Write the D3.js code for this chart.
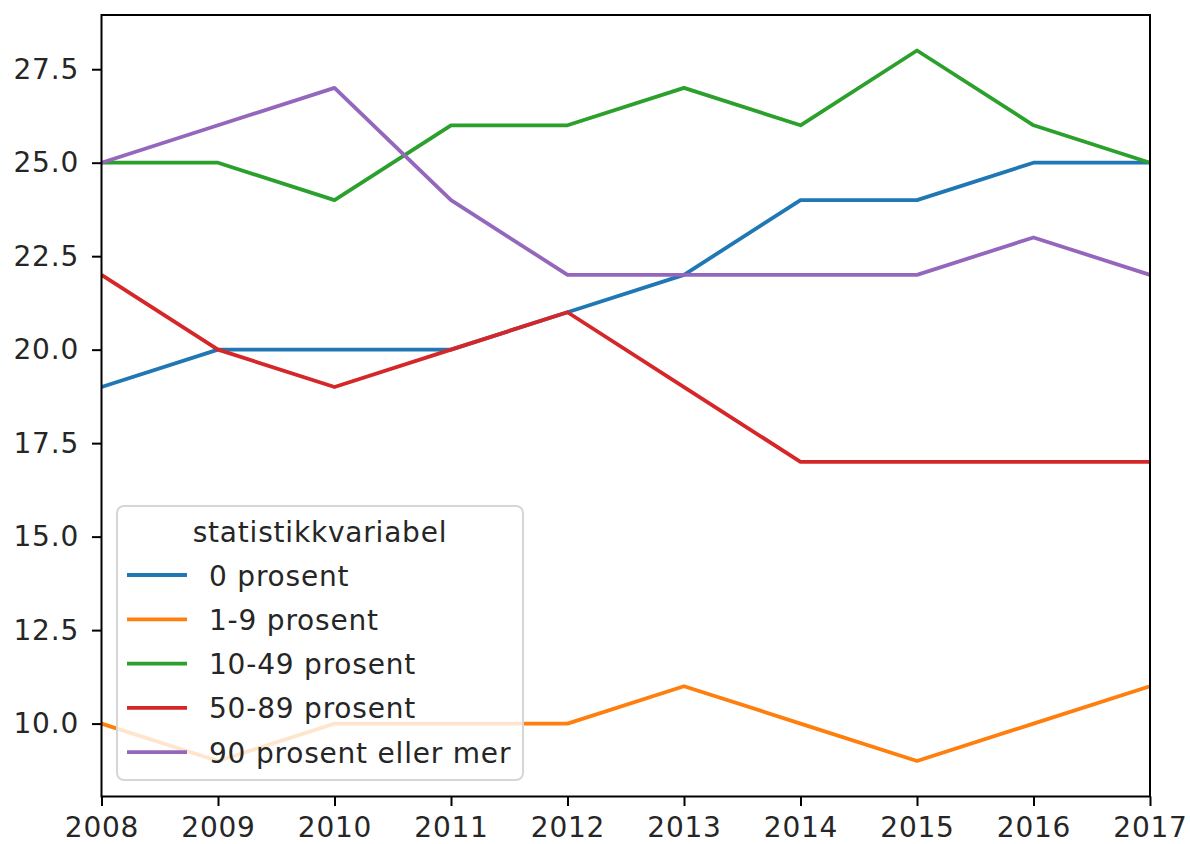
<!DOCTYPE html>
<html>
<head>
<meta charset="utf-8">
<script src="https://cdn.jsdelivr.net/npm/d3@7"></script>
<style>
  body { margin: 0; background: #fff; }
  text { font-family: "DejaVu Sans", sans-serif; fill: #262626; letter-spacing: 0.8px; }
</style>
</head>
<body>
<div id="chart"></div>
<script>
const years = [2008, 2009, 2010, 2011, 2012, 2013, 2014, 2015, 2016, 2017]
const names = ['0 prosent', '1-9 prosent', '10-49 prosent', '50-89 prosent', '90 prosent eller mer']
const colors = ['#1f77b4', '#ff7f0e', '#2ca02c', '#d62728', '#9467bd']
const p0 = [19, 20, 20, 20, 21, 22, 24, 24, 25, 25]
const p1_9 = [10, 9, 10, 10, 10, 11, 10, 9, 10, 11]
const p10_49 = [25, 25, 24, 26, 26, 27, 26, 28, 26, 25]
const p50_89 = [22, 20, 19, 20, 21, 19, 17, 17, 17, 17]
const p90 = [25, 26, 27, 24, 22, 22, 22, 22, 23, 22]
const yTicks = [10.0, 12.5, 15.0, 17.5, 20.0, 22.5, 25.0, 27.5]
const series = [p0, p1_9, p10_49, p50_89, p90]

const w = 1190
const h = 844
const padL = 101.5, padR = 1150, padT = 15, padB = 796.5
const fs = 28

const xScale = d3.scaleLinear()
                .domain([2008, 2017])
                .range([padL, padR])
const yScale = d3.scaleLinear()
                .domain([8.05, 28.95])
                .range([padB, padT])

const svg = d3.select('#chart')
                .append('svg')
                .attr('width', w)
                .attr('height', h)

const line = d3.line()
               .x((d, i) => xScale(years[i]))
               .y(d => yScale(d))

svg.append('g')
   .selectAll('path')
   .data(series)
   .enter()
   .append('path')
   .attr('d', d => line(d))
   .attr('fill', 'none')
   .attr('stroke', (d, i) => colors[i])
   .attr('stroke-width', 3.8)
   .attr('stroke-linejoin', 'round')

// axes
const xAxis = d3.axisBottom(xScale).tickValues(years).tickFormat(d3.format('d')).tickSize(9.5).tickPadding(11)
const yAxis = d3.axisLeft(yScale).tickValues(yTicks).tickFormat(d3.format('.1f')).tickSize(9.5).tickPadding(13)

const gx = svg.append('g').attr('transform', `translate(0,${padB})`).call(xAxis)
const gy = svg.append('g').attr('transform', `translate(${padL},0)`).call(yAxis)
;[gx, gy].forEach(g => {
  g.select('.domain').remove()
  g.selectAll('line').attr('stroke', '#000').attr('stroke-width', 2)
  g.selectAll('text').attr('font-size', fs).attr('fill', '#262626')
    .style('font-family', '"DejaVu Sans", sans-serif')
})

svg.append('rect')
   .attr('x', padL).attr('y', padT)
   .attr('width', padR - padL).attr('height', padB - padT)
   .attr('fill', 'none').attr('stroke', '#000').attr('stroke-width', 2)

// legend
const lg = svg.append('g')
lg.append('rect')
  .attr('x', 117).attr('y', 506)
  .attr('width', 406).attr('height', 274)
  .attr('rx', 7)
  .attr('fill', 'rgba(255,255,255,0.8)')
  .attr('stroke', '#d6d6d6').attr('stroke-width', 2)
lg.append('text')
  .attr('x', 320).attr('y', 542)
  .attr('text-anchor', 'middle')
  .attr('font-size', fs)
  .text('statistikkvariabel')
names.forEach((n, i) => {
  const y = 575 + i * 44.3
  lg.append('line')
    .attr('x1', 127).attr('x2', 187).attr('y1', y).attr('y2', y)
    .attr('stroke', colors[i]).attr('stroke-width', 3.8)
  lg.append('text')
    .attr('x', 209).attr('y', y + 10.5)
    .attr('font-size', fs)
    .text(n)
})
</script>
</body>
</html>
